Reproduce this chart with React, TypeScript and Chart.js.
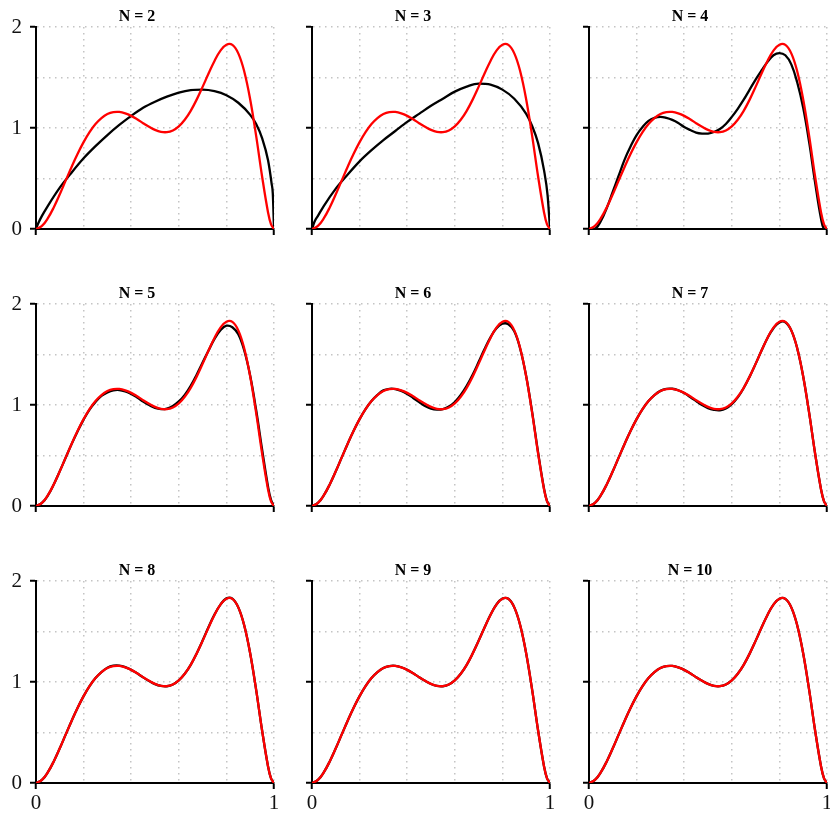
import React, { useEffect, useRef } from 'react';
import { Chart, registerables } from 'chart.js';

Chart.register(...registerables);

// ---------- data ----------
const xGrid = [0, 0.025, 0.05, 0.075, 0.1, 0.125, 0.15, 0.175, 0.2, 0.225, 0.25, 0.275, 0.3, 0.325, 0.35, 0.375, 0.4, 0.425, 0.45, 0.475, 0.5, 0.525, 0.55, 0.575, 0.6, 0.625, 0.65, 0.675, 0.7, 0.725, 0.75, 0.775, 0.8, 0.825, 0.85, 0.875, 0.9, 0.925, 0.95, 0.975, 0.9875, 1];

const target = [0, 0.030, 0.107, 0.216, 0.344, 0.481, 0.617, 0.745, 0.860, 0.959, 1.039, 1.098, 1.138, 1.157, 1.159, 1.145, 1.120, 1.086, 1.048, 1.012, 0.981, 0.962, 0.959, 0.976, 1.016, 1.081, 1.170, 1.281, 1.407, 1.539, 1.664, 1.766, 1.825, 1.823, 1.739, 1.560, 1.283, 0.922, 0.520, 0.164, 0.046, 0];

const xN2 = [0, 0.01, 0.025, 0.05, 0.1, 0.15, 0.2, 0.25, 0.3, 0.35, 0.4, 0.45, 0.5, 0.55, 0.6, 0.65, 0.7, 0.75, 0.8, 0.85, 0.9, 0.925, 0.95, 0.975, 0.99, 0.995, 1];
const approxN2 = [0, 0.06, 0.13, 0.23, 0.41, 0.56, 0.70, 0.82, 0.93, 1.03, 1.12, 1.20, 1.26, 1.31, 1.35, 1.375, 1.38, 1.365, 1.325, 1.25, 1.13, 1.04, 0.90, 0.68, 0.45, 0.35, 0];

const xN3 = [0, 0.01, 0.025, 0.05, 0.1, 0.15, 0.2, 0.25, 0.3, 0.35, 0.4, 0.45, 0.5, 0.55, 0.6, 0.65, 0.7, 0.75, 0.8, 0.85, 0.9, 0.925, 0.95, 0.975, 0.99, 1];
const approxN3 = [0, 0.07, 0.13, 0.23, 0.40, 0.54, 0.67, 0.78, 0.88, 0.97, 1.06, 1.14, 1.22, 1.29, 1.36, 1.41, 1.44, 1.43, 1.38, 1.29, 1.14, 1.02, 0.85, 0.58, 0.33, 0];

const approxN4 = [0, 0, 0.08, 0.21, 0.37, 0.53, 0.69, 0.82, 0.93, 1.01, 1.07, 1.10, 1.11, 1.10, 1.08, 1.05, 1.01, 0.98, 0.955, 0.945, 0.945, 0.96, 0.99, 1.04, 1.11, 1.19, 1.28, 1.38, 1.48, 1.57, 1.655, 1.72, 1.742, 1.72, 1.63, 1.45, 1.20, 0.86, 0.46, 0.10, 0, 0];

const approxN5 = [0, 0.030, 0.105, 0.215, 0.345, 0.480, 0.615, 0.740, 0.855, 0.955, 1.030, 1.090, 1.125, 1.145, 1.148, 1.135, 1.110, 1.075, 1.035, 1.000, 0.972, 0.960, 0.965, 0.990, 1.035, 1.100, 1.190, 1.300, 1.420, 1.540, 1.655, 1.740, 1.785, 1.770, 1.700, 1.540, 1.290, 0.950, 0.560, 0.190, 0.060, 0];

const approxN6 = [0, 0.030, 0.107, 0.216, 0.344, 0.481, 0.617, 0.745, 0.860, 0.959, 1.039, 1.100, 1.145, 1.160, 1.158, 1.140, 1.110, 1.070, 1.030, 0.990, 0.965, 0.955, 0.960, 0.985, 1.030, 1.100, 1.190, 1.300, 1.425, 1.555, 1.670, 1.760, 1.805, 1.800, 1.730, 1.555, 1.285, 0.930, 0.530, 0.170, 0.048, 0];

const approxN7 = [0, 0.030, 0.107, 0.216, 0.344, 0.481, 0.617, 0.745, 0.860, 0.959, 1.039, 1.098, 1.140, 1.160, 1.161, 1.146, 1.118, 1.080, 1.040, 1.000, 0.968, 0.952, 0.948, 0.965, 1.008, 1.075, 1.168, 1.281, 1.407, 1.539, 1.664, 1.760, 1.818, 1.820, 1.739, 1.560, 1.283, 0.922, 0.520, 0.164, 0.046, 0];

const approxN8 = [0, 0.030, 0.107, 0.216, 0.344, 0.481, 0.617, 0.745, 0.860, 0.959, 1.039, 1.098, 1.142, 1.162, 1.163, 1.148, 1.120, 1.086, 1.046, 1.010, 0.979, 0.961, 0.958, 0.976, 1.016, 1.081, 1.170, 1.283, 1.410, 1.545, 1.668, 1.766, 1.828, 1.826, 1.739, 1.560, 1.283, 0.922, 0.520, 0.164, 0.046, 0];

const approxN9 = [0, 0.030, 0.107, 0.216, 0.344, 0.481, 0.617, 0.745, 0.860, 0.959, 1.039, 1.098, 1.139, 1.158, 1.160, 1.146, 1.120, 1.086, 1.048, 1.012, 0.980, 0.961, 0.958, 0.976, 1.016, 1.081, 1.170, 1.282, 1.408, 1.540, 1.665, 1.767, 1.826, 1.824, 1.739, 1.560, 1.283, 0.922, 0.520, 0.164, 0.046, 0];

const approxN10 = [0, 0.030, 0.107, 0.216, 0.344, 0.481, 0.617, 0.745, 0.860, 0.959, 1.039, 1.098, 1.138, 1.157, 1.159, 1.145, 1.120, 1.086, 1.048, 1.012, 0.981, 0.962, 0.959, 0.976, 1.016, 1.081, 1.170, 1.281, 1.407, 1.539, 1.664, 1.766, 1.825, 1.823, 1.739, 1.560, 1.283, 0.922, 0.520, 0.164, 0.046, 0];

const panelTitles = ['N = 2', 'N = 3', 'N = 4', 'N = 5', 'N = 6', 'N = 7', 'N = 8', 'N = 9', 'N = 10'];
const approxX = [xN2, xN3, xGrid, xGrid, xGrid, xGrid, xGrid, xGrid, xGrid];
const approxY = [approxN2, approxN3, approxN4, approxN5, approxN6, approxN7, approxN8, approxN9, approxN10];
const xTickLabels = [0, 1];
const yTickLabels = [0, 1, 2];

// ---------- layout ----------
const PLOT_LEFT = [36, 312, 589];
const PLOT_TOP = [27, 304, 581];
const PLOT_W = 238;
const PLOT_H = 202;
const Y_AXIS_W = 36;
const TITLE_H = 22;
const RIGHT_PAD = 12;
const SERIF = "'Liberation Serif', 'Times New Roman', serif";
const GRID_COLOR = '#c4c4c4';
const NONE = 'rgba(0,0,0,0)';

function toPoints(xs: number[], ys: number[]) {
  return xs.map((x, i) => ({ x, y: ys[i] }));
}

function Panel({ idx }: { idx: number }) {
  const ref = useRef<HTMLCanvasElement | null>(null);
  const row = Math.floor(idx / 3);
  const col = idx % 3;
  const bottomH = row === 2 ? 40 : 24;
  const w = Y_AXIS_W + PLOT_W + RIGHT_PAD;
  const h = TITLE_H + PLOT_H + bottomH;
  const showX = row === 2;
  const showY = col === 0;
  const steepEnds = idx < 2;

  useEffect(() => {
    if (!ref.current) return;
    const chart = new Chart(ref.current, {
      type: 'line',
      data: {
        datasets: [
          {
            data: toPoints(xGrid, target),
            borderColor: '#ff0000',
            borderWidth: 2.3,
            pointRadius: 0,
            fill: false,
            tension: 0.4,
          },
          {
            data: toPoints(approxX[idx], approxY[idx]),
            borderColor: '#000000',
            borderWidth: 2.3,
            pointRadius: 0,
            fill: false,
            tension: 0.4,
            cubicInterpolationMode: steepEnds ? 'monotone' : 'default',
          },
        ],
      },
      options: {
        responsive: false,
        animation: false,
        devicePixelRatio: 1,
        layout: { autoPadding: false, padding: { left: 0, right: RIGHT_PAD, top: 0, bottom: 0 } },
        plugins: {
          legend: { display: false },
          tooltip: { enabled: false },
          title: {
            display: true,
            text: panelTitles[idx],
            color: '#000',
            font: { family: SERIF, size: 16, weight: 'bold', lineHeight: 1.25 },
            padding: { top: 2, bottom: 0 },
          },
        },
        scales: {
          x: {
            type: 'linear',
            min: 0,
            max: 1,
            afterFit: (s: any) => {
              s.height = bottomH;
            },
            ticks: {
              stepSize: 0.2,
              autoSkip: false,
              maxRotation: 0,
              padding: 2,
              color: '#111',
              font: { family: SERIF, size: 21 },
              callback: (v: any) => (showX && xTickLabels.includes(Number(v)) ? String(v) : ''),
            },
            grid: {
              color: (c: any) => (c.tick && c.tick.value > 0.001 ? GRID_COLOR : NONE),
              lineWidth: 1.5,
              tickLength: 6,
              tickWidth: 2,
              tickColor: (c: any) =>
                c.tick && (Math.abs(c.tick.value) < 1e-6 || Math.abs(c.tick.value - 1) < 1e-6) ? '#000' : NONE,
            },
            border: { display: true, color: '#000', width: 2, dash: [1.5, 4.5] },
          },
          y: {
            type: 'linear',
            min: 0,
            max: 2,
            afterFit: (s: any) => {
              s.width = Y_AXIS_W;
            },
            ticks: {
              stepSize: 0.5,
              autoSkip: false,
              padding: 8,
              color: '#111',
              font: { family: SERIF, size: 21 },
              callback: (v: any) => (showY && yTickLabels.includes(Number(v)) ? String(v) : ''),
            },
            grid: {
              color: (c: any) => (c.tick && c.tick.value > 0.001 ? GRID_COLOR : NONE),
              lineWidth: 1.5,
              tickLength: 6,
              tickWidth: 2,
              tickColor: (c: any) => (c.tick && Number.isInteger(c.tick.value) ? '#000' : NONE),
            },
            border: { display: true, color: '#000', width: 2, dash: [1.5, 4.5] },
          },
        },
      } as any,
    });
    return () => chart.destroy();
  }, [idx]);

  return (
    <canvas
      ref={ref}
      width={w}
      height={h}
      style={{
        position: 'absolute',
        left: PLOT_LEFT[col] - Y_AXIS_W,
        top: PLOT_TOP[row] - TITLE_H,
        width: w,
        height: h,
      }}
    />
  );
}

export default function App() {
  return (
    <div
      style={{
        position: 'fixed',
        left: 0,
        top: 0,
        width: 830,
        height: 830,
        background: '#fff',
        overflow: 'hidden',
      }}
    >
      {panelTitles.map((_, i) => (
        <Panel key={i} idx={i} />
      ))}
    </div>
  );
}
